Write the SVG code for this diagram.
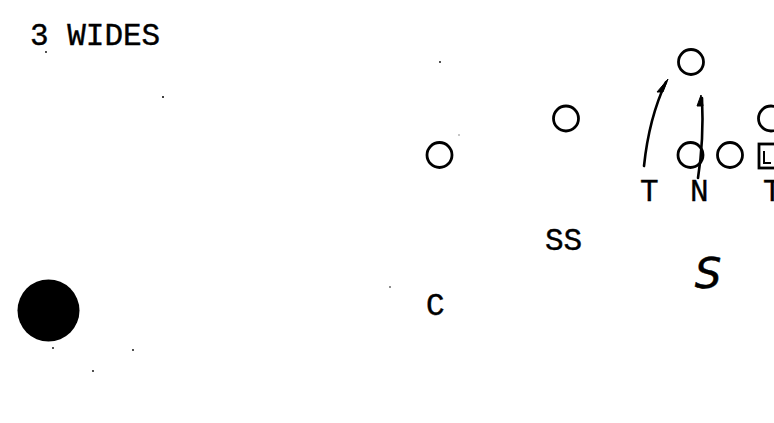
<svg xmlns="http://www.w3.org/2000/svg" width="774" height="423" viewBox="0 0 774 423">
<style>
.mono{font-family:"Liberation Mono","Courier New",monospace;font-size:31px;fill:#000;stroke:#000;stroke-width:0.4}
.hand{font-family:"DejaVu Sans",sans-serif;font-style:italic;font-size:42px;fill:#000;stroke:#000;stroke-width:0.5}
.o{fill:none;stroke:#000;stroke-width:2.8}
.arr{fill:none;stroke:#000;stroke-width:2.6;stroke-linecap:round}
.head{fill:#000;stroke:#000;stroke-width:1;stroke-linejoin:round}
.speck{fill:#000}
</style>
<rect width="774" height="423" fill="#fff"/>
<g id="title"><text class="mono" x="30" y="45">3 WIDES</text></g>
<g id="specks">
<circle class="speck" cx="46" cy="52" r="0.9"/>
<circle class="speck" cx="163" cy="97" r="1"/>
<circle class="speck" cx="440" cy="62" r="0.9"/>
<circle class="speck" cx="459" cy="135" r="0.8" fill-opacity="0.5"/>
<circle class="speck" cx="390" cy="287" r="0.8"/>
<circle class="speck" cx="53" cy="348" r="0.9"/>
<circle class="speck" cx="133" cy="350" r="0.9"/>
<circle class="speck" cx="93" cy="371" r="0.9"/>
</g>
<g id="ball"><circle cx="48.5" cy="310.5" r="31" fill="#000"/></g>
<g id="p-top"><circle class="o" cx="691" cy="62" r="12.5"/></g>
<g id="p-mid"><circle class="o" cx="566" cy="118.5" r="12.5"/></g>
<g id="p-right"><circle class="o" cx="771" cy="118.5" r="12.5"/></g>
<g id="p-left"><circle class="o" cx="439.5" cy="155" r="12.5"/></g>
<g id="p-n"><circle class="o" cx="690.5" cy="155" r="12.5"/></g>
<g id="p-g"><circle class="o" cx="730" cy="155" r="12.5"/></g>
<g id="p-center"><rect class="o" x="759" y="144" width="24" height="24"/><path d="M764,151 V163 H771" fill="none" stroke="#000" stroke-width="2"/></g>
<g id="connectors">
<path class="arr" d="M644,166 Q649,118 666,82"/>
<polygon class="head" points="668,79 657,92 663,92"/>
<path class="arr" d="M698,178 Q704,140 702,98"/>
<polygon class="head" points="701,95 697,106 703,106"/>
</g>
<g id="labels">
<text class="mono" x="640" y="201">T</text>
<text class="mono" x="690" y="201">N</text>
<text class="mono" x="763" y="201">T</text>
<text class="mono" x="545" y="250">SS</text>
<text class="mono" x="426" y="315">C</text>
<text class="hand" x="708" y="288" text-anchor="middle">S</text>
</g>
</svg>
